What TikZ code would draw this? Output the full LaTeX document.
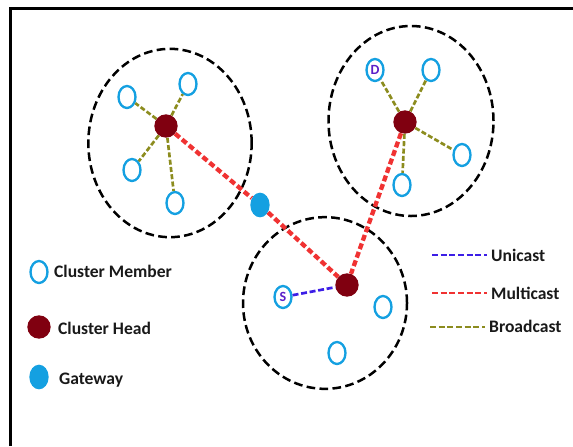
\documentclass[tikz,border=0pt]{standalone}
\usepackage{fontspec}
\setmainfont{Carlito}
\usetikzlibrary{shapes,positioning}

\definecolor{headred}{RGB}{128,0,16}
\definecolor{nodeblue}{RGB}{20,160,225}
\definecolor{castred}{RGB}{240,50,50}
\definecolor{castolive}{RGB}{140,140,30}
\definecolor{castblue}{RGB}{60,30,230}
\definecolor{letterpurple}{RGB}{90,30,200}

\tikzset{
  cluster/.style={ellipse, draw=black, dash pattern=on 0.26cm off 0.13cm, line width=0.075cm, minimum width=4.9cm, minimum height=5.65cm},
  member/.style={ellipse, draw=nodeblue, line width=0.07cm, minimum width=0.51cm, minimum height=0.66cm, inner sep=0pt},
  head/.style={circle, fill=headred, minimum size=0.7cm, inner sep=0pt},
  gateway/.style={ellipse, fill=nodeblue, minimum width=0.58cm, minimum height=0.74cm, inner sep=0pt},
  multicast/.style={castred, line width=0.13cm, dash pattern=on 0.18cm off 0.09cm},
  broadcast/.style={castolive, line width=0.08cm, dash pattern=on 0.15cm off 0.07cm},
  unicast/.style={castblue, line width=0.08cm, dash pattern=on 0.18cm off 0.08cm},
  legline/.style={line width=0.08cm, dash pattern=on 0.18cm off 0.08cm},
  legtext/.style={anchor=west, font=\fontsize{15}{17}\selectfont\bfseries, text=black!90},
  letter/.style={font=\fontsize{12}{13}\selectfont\bfseries, text=letterpurple}
}

\begin{document}
\begin{tikzpicture}[x=0.03cm,y=-0.03cm]

      \useasboundingbox (0,0) rectangle (573,446);
   %   \draw[help lines, step=10] (0,0) grid (573,446);

      \draw[line width=0.09cm] (10.5,446) |- (573,8);

      % clusters
      \node [cluster] (clA) at (170,143) {};
      \node [cluster, minimum width=4.95cm, minimum height=5.7cm] (clB) at (411,121) {};
      \node [cluster, minimum width=4.92cm, minimum height=5.15cm] (clC) at (325,303) {};

      % cluster A
      \node [head] (hA) at (166,126) {};
      \node [member] (mA1) at (127,97) {};
      \node [member] (mA2) at (188,84) {};
      \node [member] (mA3) at (132,170) {};
      \node [member] (mA4) at (175,203) {};

      % cluster B
      \node [head] (hB) at (405,122) {};
      \node [member, letter] (dst) at (375,70) {D};
      \node [member] (mB2) at (431,70) {};
      \node [member] (mB3) at (462,155) {};
      \node [member] (mB4) at (402,185) {};

      % cluster C
      \node [head] (hC) at (347,285) {};
      \node [member, letter] (src) at (283,297) {S};
      \node [member] (mC2) at (383,307) {};
      \node [member] (mC3) at (337,353) {};

      \node [gateway] (gw) at (260,205) {};

      \foreach \m in {mA1,mA2,mA3,mA4} \draw[broadcast] (hA) -- (\m);
      \foreach \m in {dst,mB2,mB3,mB4} \draw[broadcast] (hB) -- (\m);

      \draw[multicast] (hA) -- (gw) -- (hC);
      \draw[multicast] (hB) -- (hC);
      \draw[unicast] (src) -- (hC);

      % legend
      \node [member] (kMember) at (39,272) {};
      \node [legtext] (tMember) at (50,271) {Cluster Member};
      \node [head] (kHead) at (39,327) {};
      \node [legtext] (tHead) at (54,328) {Cluster Head};
      \node [gateway] (kGate) at (39,377) {};
      \node [legtext] (tGate) at (55,380) {Gateway};

      \coordinate (uniA) at (432,255);
      \node [legtext] (tUni) at (487,255) {Unicast};
      \draw[legline, castblue] (uniA) -- (tUni);
      \coordinate (multiA) at (432,293);
      \node [legtext] (tMulti) at (487,293) {Multicast};
      \draw[legline, castred] (multiA) -- (tMulti);
      \coordinate (broadA) at (430,327);
      \node [legtext] (tBroad) at (485,326) {Broadcast};
      \draw[legline, castolive] (broadA) -- (tBroad.west |- broadA);

    \end{tikzpicture}
\end{document}
